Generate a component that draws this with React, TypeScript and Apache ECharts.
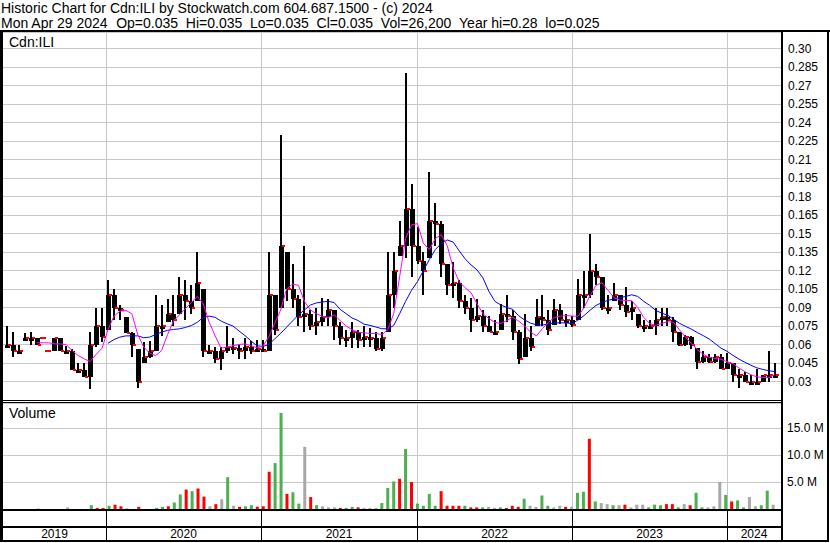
import React, { useEffect, useRef } from "react";
import * as echarts from "echarts";

// ---- data (biweekly periods) ----
const periodStart = Date.UTC(2019, 4, 13);
const periodDays = 14;

const highs = [
  0.075, 0.07, 0.06, 0.069, 0.07, 0.065, 0.065, 0.055, 0.065, 0.065,
  0.059, 0.056, 0.045, 0.045, 0.07, 0.09, 0.09, 0.112, 0.105, 0.092,
  0.082, 0.07, 0.056, 0.062, 0.063, 0.1, 0.092, 0.097, 0.1, 0.115,
  0.112, 0.108, 0.135, 0.105, 0.06, 0.058, 0.058, 0.075, 0.065, 0.06,
  0.065, 0.063, 0.064, 0.064, 0.135, 0.1, 0.23, 0.135, 0.125, 0.1,
  0.14, 0.088, 0.09, 0.098, 0.097, 0.088, 0.078, 0.072, 0.078, 0.072,
  0.075, 0.073, 0.07, 0.07, 0.135, 0.135, 0.16, 0.28, 0.19, 0.155,
  0.135, 0.2, 0.175, 0.16, 0.125, 0.127, 0.112, 0.1, 0.098, 0.097,
  0.088, 0.083, 0.08, 0.093, 0.1, 0.088, 0.072, 0.085, 0.075, 0.097,
  0.1, 0.088, 0.097, 0.093, 0.085, 0.083, 0.113, 0.12, 0.15, 0.125,
  0.115, 0.1, 0.11, 0.1, 0.107, 0.095, 0.085, 0.08, 0.08, 0.09,
  0.09, 0.09, 0.082, 0.07, 0.068, 0.067, 0.057, 0.055, 0.052, 0.052,
  0.052, 0.053, 0.045, 0.04, 0.038, 0.035, 0.04, 0.035, 0.055, 0.045,
];

const lows = [
  0.06, 0.05, 0.055, 0.064, 0.06, 0.06, 0.065, 0.055, 0.055, 0.055,
  0.055, 0.039, 0.039, 0.034, 0.024, 0.058, 0.062, 0.072, 0.08, 0.08,
  0.069, 0.05, 0.025, 0.045, 0.049, 0.055, 0.067, 0.078, 0.075, 0.085,
  0.08, 0.085, 0.095, 0.05, 0.052, 0.045, 0.039, 0.053, 0.052, 0.048,
  0.048, 0.052, 0.054, 0.054, 0.055, 0.068, 0.09, 0.095, 0.09, 0.075,
  0.07, 0.072, 0.068, 0.075, 0.075, 0.064, 0.06, 0.058, 0.057, 0.057,
  0.058, 0.058, 0.055, 0.055, 0.07, 0.09, 0.132, 0.13, 0.115, 0.125,
  0.1, 0.13, 0.14, 0.115, 0.1, 0.098, 0.09, 0.085, 0.07, 0.078,
  0.07, 0.07, 0.068, 0.072, 0.078, 0.064, 0.044, 0.05, 0.055, 0.075,
  0.075, 0.068, 0.076, 0.077, 0.074, 0.074, 0.08, 0.09, 0.098, 0.108,
  0.088, 0.085, 0.095, 0.088, 0.082, 0.08, 0.073, 0.07, 0.073, 0.068,
  0.075, 0.075, 0.062, 0.059, 0.059, 0.056, 0.04, 0.045, 0.045, 0.045,
  0.04, 0.04, 0.03, 0.025, 0.03, 0.03, 0.03, 0.03, 0.03, 0.033,
];

const closes = [
  0.06, 0.055, 0.055, 0.065, 0.065, 0.06, 0.065, 0.055, 0.065, 0.055,
  0.055, 0.039, 0.039, 0.034, 0.06, 0.075, 0.066, 0.1, 0.09, 0.088,
  0.069, 0.06, 0.03, 0.05, 0.055, 0.075, 0.075, 0.085, 0.08, 0.1,
  0.095, 0.09, 0.11, 0.055, 0.055, 0.048, 0.055, 0.058, 0.057, 0.055,
  0.058, 0.055, 0.056, 0.055, 0.1, 0.072, 0.14, 0.105, 0.097, 0.082,
  0.085, 0.075, 0.078, 0.082, 0.088, 0.075, 0.065, 0.065, 0.07, 0.064,
  0.066, 0.065, 0.056, 0.065, 0.1, 0.12, 0.14, 0.17, 0.14, 0.128,
  0.12, 0.16, 0.158, 0.125, 0.108, 0.11, 0.095, 0.09, 0.08, 0.083,
  0.075, 0.07, 0.07, 0.085, 0.083, 0.07, 0.048, 0.065, 0.058, 0.082,
  0.08, 0.072, 0.088, 0.08, 0.08, 0.076, 0.1, 0.1, 0.12, 0.115,
  0.09, 0.09, 0.1, 0.092, 0.086, 0.09, 0.075, 0.075, 0.075, 0.08,
  0.082, 0.08, 0.07, 0.06, 0.066, 0.06, 0.046, 0.05, 0.046, 0.05,
  0.04, 0.045, 0.035, 0.035, 0.03, 0.03, 0.03, 0.035, 0.035, 0.035,
];

// short moving average (magenta), starts at period 5
const maFastStart = 5;
const maFast = [
  0.0614, 0.0614, 0.0614, 0.0605, 0.0605, 0.0598, 0.055, 0.051, 0.0484, 0.0462,
  0.052, 0.057, 0.072, 0.083, 0.087, 0.0876, 0.085, 0.068, 0.058, 0.053,
  0.051, 0.055, 0.068, 0.079, 0.084, 0.089, 0.094, 0.099, 0.093, 0.078,
  0.067, 0.057, 0.058, 0.059, 0.06, 0.0605, 0.059, 0.0573, 0.0585, 0.066,
  0.077, 0.088, 0.105, 0.109, 0.108, 0.095, 0.088, 0.085, 0.083, 0.0818,
  0.084, 0.0795, 0.075, 0.072, 0.07, 0.0695, 0.069, 0.069, 0.068, 0.072,
  0.085, 0.115, 0.146, 0.157, 0.158, 0.142, 0.137, 0.146, 0.149, 0.14,
  0.122, 0.111, 0.106, 0.102, 0.093, 0.085, 0.081, 0.078, 0.077, 0.0795,
  0.082, 0.079, 0.075, 0.07, 0.067, 0.073, 0.078, 0.082, 0.083, 0.0835,
  0.083, 0.083, 0.09, 0.0997, 0.108, 0.11, 0.104, 0.098, 0.096, 0.0957,
  0.0955, 0.09, 0.082, 0.077, 0.0755, 0.077, 0.0785, 0.078, 0.072, 0.066,
  0.061, 0.056, 0.052, 0.0497, 0.0487, 0.048, 0.046, 0.0445, 0.041, 0.038,
  0.0355, 0.0338, 0.0333, 0.033, 0.0355,
];

// long moving average (blue), starts at period 17
const maSlowStart = 17;
const maSlow = [
  0.061, 0.064, 0.066, 0.067, 0.067, 0.067, 0.0655, 0.066, 0.068, 0.07,
  0.0715, 0.0722, 0.0727, 0.0738, 0.0754, 0.078, 0.082, 0.083, 0.082, 0.079,
  0.0768, 0.075, 0.071, 0.0673, 0.063, 0.059, 0.0584, 0.06, 0.0645, 0.069,
  0.074, 0.079, 0.084, 0.088, 0.092, 0.0937, 0.0945, 0.095, 0.094, 0.0885,
  0.085, 0.0815, 0.0795, 0.0765, 0.0755, 0.0742, 0.0728, 0.0727, 0.0754, 0.085,
  0.095, 0.104, 0.111, 0.12, 0.129, 0.137, 0.142, 0.1448, 0.143, 0.136,
  0.1295, 0.1245, 0.1205, 0.114, 0.103, 0.095, 0.092, 0.09, 0.0885, 0.0833,
  0.0798, 0.0773, 0.076, 0.0758, 0.0768, 0.0775, 0.0776, 0.0775, 0.077, 0.08,
  0.0835, 0.0878, 0.0917, 0.094, 0.0958, 0.097, 0.098, 0.099, 0.1003, 0.099,
  0.095, 0.0918, 0.0877, 0.0855, 0.0838, 0.0805, 0.0772, 0.0748, 0.0725, 0.0697,
  0.0672, 0.0645, 0.0608, 0.057, 0.0545, 0.0512, 0.0482, 0.0456, 0.0432, 0.0411,
  0.0398, 0.0388, 0.038,
];

// volume in millions (largest daily bar of each period) and its direction
const volumes = [
  0, 0, 0, 0, 0, 0.1, 0, 0, 0, 0,
  0.3, 0, 0, 0, 0.7, 0.2, 0.2, 0.6, 0.8, 0.5,
  0.1, 0, 0.4, 0, 0, 0.2, 0.4, 0.5, 1.2, 2.7,
  3.6, 3.3, 3.8, 2.3, 0.5, 0.9, 1.8, 5.9, 0.6, 0.4,
  0.5, 0.7, 0.4, 0.5, 6.9, 8.5, 17.8, 2.8, 3.1, 1.0,
  11.5, 2.2, 0.7, 0.5, 0.3, 0.3, 0.2, 0.2, 0.4, 0.3,
  0.2, 0.2, 0.2, 1.1, 3.9, 5.1, 5.6, 11.1, 5.0, 1.0,
  0.6, 2.8, 0.6, 3.3, 0.6, 0.6, 0.6, 0.6, 0.3, 0.3,
  0.3, 0.4, 0.2, 0.3, 0.2, 0.6, 0.4, 1.9, 0.6, 0.4,
  2.5, 0.6, 0.3, 0.6, 0.4, 0.4, 3.0, 3.2, 13.0, 1.4,
  1.1, 0.9, 0.7, 0.7, 0.8, 0.3, 0.8, 0.8, 0.3, 0.8,
  0.7, 0.9, 0.9, 0.3, 0.9, 0.7, 3.0, 0.3, 0.3, 0.5,
  5.0, 2.6, 1.4, 1.6, 0.3, 2.2, 0.5, 0.7, 3.4, 0.8,
];

const volumeDirection = [
  "n", "n", "n", "n", "n", "n", "n", "n", "n", "n",
  "n", "n", "n", "n", "g", "r", "r", "g", "r", "r",
  "g", "n", "r", "n", "n", "g", "g", "r", "g", "g",
  "r", "g", "r", "r", "n", "r", "n", "g", "n", "r",
  "g", "g", "r", "r", "r", "g", "g", "r", "g", "g",
  "n", "r", "g", "n", "n", "n", "r", "g", "g", "r",
  "n", "n", "n", "g", "g", "g", "r", "g", "r", "g",
  "g", "g", "g", "r", "r", "r", "r", "g", "r", "r",
  "g", "n", "n", "g", "r", "r", "r", "g", "n", "n",
  "g", "g", "n", "n", "r", "n", "g", "g", "r", "g",
  "n", "n", "g", "n", "r", "n", "n", "n", "g", "g",
  "g", "r", "r", "g", "n", "r", "g", "g", "n", "n",
  "n", "g", "r", "g", "g", "n", "n", "g", "g", "n",
];

const yearLabels = ["2019", "2020", "2021", "2022", "2023", "2024"];
const titleLine1 = "Historic Chart for Cdn:ILI by Stockwatch.com 604.687.1500 - (c) 2024";
const titleFields = [
  "Mon Apr 29 2024",
  "Op=0.035",
  "Hi=0.035",
  "Lo=0.035",
  "Cl=0.035",
  "Vol=26,200",
  "Year hi=0.28",
  "lo=0.025",
];
const symbolLabel = "Cdn:ILI";
const volumeLabel = "Volume";

const axisStart = Date.UTC(2019, 4, 4);
const axisEnd = Date.UTC(2024, 4, 7);

const FONT = "'Liberation Sans', Arial, sans-serif";
const DAY = 86400000;

const volColor: Record<string, string> = { g: "#4caf50", r: "#ff0000", n: "#a8a8a8" };

function fmtPrice(v: number) {
  if (v < 0.02 || v > 0.301) return "";
  let s = v.toFixed(3);
  if (s.endsWith("0")) s = s.slice(0, -1);
  return s;
}

export default function App() {
  const ref = useRef<HTMLDivElement>(null);

  useEffect(() => {
    document.body.style.margin = "0";
    const chart = echarts.init(ref.current!, undefined, { renderer: "svg" });
    const dates = closes.map((_, i) => periodStart + i * periodDays * DAY);

    const candleData = dates.map((d, i) => [
      d,
      highs[i],
      lows[i],
      closes[i],
      i > 0 ? closes[i - 1] : closes[i],
    ]);
    const fastData = dates.map((d, i) => [
      d,
      i >= maFastStart ? maFast[i - maFastStart] : null,
    ]);
    const slowData = dates.map((d, i) => [
      d,
      i >= maSlowStart ? maSlow[i - maSlowStart] : null,
    ]);
    const volData = dates.map((d, i) => ({
      value: [d, volumes[i]],
      itemStyle: { color: volColor[volumeDirection[i]] },
    }));

    const option: any = {
      animation: false,
      backgroundColor: "#ffffff",
      textStyle: { fontFamily: FONT },
      grid: [
        { left: 3, top: 32, width: 778, height: 368 },
        { left: 3, top: 403, width: 778, height: 106 },
      ],
      xAxis: [
        { type: "time", gridIndex: 0, min: axisStart, max: axisEnd, show: false },
        { type: "time", gridIndex: 1, min: axisStart, max: axisEnd, show: false },
      ],
      yAxis: [
        {
          type: "value",
          gridIndex: 0,
          position: "right",
          min: 0.015,
          max: 0.3134,
          interval: 0.015,
          axisLine: { show: false },
          axisTick: { show: false },
          splitLine: { show: true, lineStyle: { color: "#c8c8c8", width: 1 } },
          axisLabel: {
            margin: 7,
            color: "#000",
            fontSize: 12,
            fontFamily: FONT,
            formatter: (v: number) => fmtPrice(v),
          },
        },
        {
          type: "value",
          gridIndex: 1,
          position: "right",
          min: 0,
          max: 19.63,
          interval: 5,
          axisLine: { show: false },
          axisTick: { show: false },
          splitLine: { show: true, lineStyle: { color: "#c8c8c8", width: 1 } },
          axisLabel: {
            margin: 6,
            color: "#000",
            fontSize: 12,
            fontFamily: FONT,
            formatter: (v: number) => (v > 0 && v < 19 ? v.toFixed(1) + " M" : ""),
          },
        },
      ],
      series: [
        {
          type: "custom",
          name: "Price",
          xAxisIndex: 0,
          yAxisIndex: 0,
          clip: true,
          z: 3,
          encode: { x: 0, y: [1, 2, 3, 4] },
          data: candleData,
          renderItem: (params: any, api: any) => {
            const t = api.value(0);
            const hi = api.value(1);
            const lo = api.value(2);
            const cl = api.value(3);
            const pc = api.value(4);
            const pHi = api.coord([t, hi]);
            const pLo = api.coord([t, lo]);
            const pCl = api.coord([t, cl]);
            const x = Math.round(pHi[0]);
            const children: any[] = [];
            if (hi - lo < 0.001) {
              children.push({
                type: "rect",
                shape: { x: x - 3, y: Math.round(pCl[1]) - 1, width: 6, height: 2 },
                style: { fill: "#ff0000" },
              });
            } else {
              const top = Math.round(pHi[1]);
              const bot = Math.round(pLo[1]);
              children.push({
                type: "rect",
                shape: { x: x - 1, y: top, width: 2, height: Math.max(1, bot - top) },
                style: { fill: "#000" },
              });
              const bHi = Math.min(hi, Math.max(pc, cl));
              const bLo = Math.max(lo, Math.min(pc, cl));
              const pbHi = api.coord([t, bHi]);
              const pbLo = api.coord([t, bLo]);
              const bt = Math.round(pbHi[1]);
              children.push({
                type: "rect",
                shape: {
                  x: x - 2,
                  y: bt,
                  width: 5,
                  height: Math.max(3, Math.round(pbLo[1]) - bt),
                },
                style: { fill: "#000" },
              });
              children.push({
                type: "rect",
                shape: { x: x + 1, y: Math.round(pCl[1]) - 1, width: 3, height: 2 },
                style: { fill: "#ff0000" },
              });
            }
            return { type: "group", children };
          },
        },
        {
          type: "line",
          name: "MA long",
          xAxisIndex: 0,
          yAxisIndex: 0,
          data: slowData,
          showSymbol: false,
          symbol: "none",
          z: 5,
          lineStyle: { color: "#0000ff", width: 1 },
        },
        {
          type: "line",
          name: "MA short",
          xAxisIndex: 0,
          yAxisIndex: 0,
          data: fastData,
          showSymbol: false,
          symbol: "none",
          z: 6,
          lineStyle: { color: "#ff00ff", width: 1 },
        },
        {
          type: "bar",
          name: "Volume",
          xAxisIndex: 1,
          yAxisIndex: 1,
          barWidth: 3,
          data: volData,
          z: 3,
        },
      ],
    };
    chart.setOption(option);

    // layout derived from the time axis scale
    const yearX = [2020, 2021, 2022, 2023, 2024].map((y) =>
      Math.round(chart.convertToPixel({ xAxisIndex: 0 }, Date.UTC(y, 0, 1)) as number)
    );
    const bounds = [3, ...yearX, 781];
    const els: any[] = [];
    const rect = (x: number, y: number, w: number, h: number, fill: string, z = 50) =>
      els.push({ type: "rect", shape: { x, y, width: w, height: h }, style: { fill }, z, silent: true });

    yearX.forEach((x) => {
      rect(x, 32, 1, 368, "#c8c8c8", 1);
      rect(x, 403, 1, 106, "#c8c8c8", 1);
      rect(x, 511, 1, 29, "#000");
    });
    // frame
    rect(0, 30, 830, 2, "#000");
    rect(0, 30, 3, 512, "#000");
    rect(781, 30, 2, 512, "#000");
    rect(827, 30, 2, 512, "#000");
    rect(0, 540, 829, 2, "#000");
    rect(3, 400, 778, 1, "#000");
    rect(3, 402, 778, 1, "#000");
    rect(3, 509, 778, 2, "#000");
    rect(3, 526, 778, 2, "#000");

    const txt = (text: string, x: number, y: number, size: number, align = "left") =>
      els.push({
        type: "text",
        z: 60,
        silent: true,
        style: {
          text,
          x,
          y,
          fill: "#000",
          font: `${size}px ${FONT}`,
          textAlign: align,
          textVerticalAlign: "middle",
        },
      });
    txt(titleLine1, 1, 7.5, 14);

    // second title line: fields separated by two spaces
    const ctx = document.createElement("canvas").getContext("2d")!;
    ctx.font = `14px ${FONT}`;
    const gap = 2 * ctx.measureText(" ").width;
    let cx = 1;
    titleFields.forEach((f) => {
      txt(f, cx, 22.5, 14);
      cx += ctx.measureText(f).width + gap;
    });

    txt(symbolLabel, 9, 42, 14);
    txt(volumeLabel, 9, 413, 14);
    yearLabels.forEach((lab, k) => {
      txt(lab, (bounds[k] + bounds[k + 1]) / 2, 534, 12, "center");
    });

    chart.setOption({ graphic: { elements: els } });

    return () => chart.dispose();
  }, []);

  return (
    <div
      ref={ref}
      style={{ position: "fixed", left: 0, top: 0, width: 830, height: 543, background: "#fff" }}
    />
  );
}
